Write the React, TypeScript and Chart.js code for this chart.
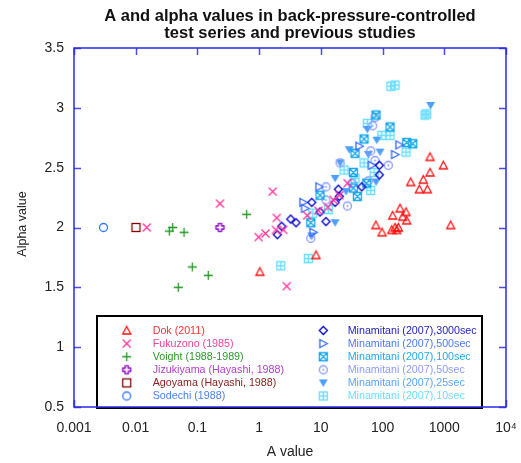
import React, { useEffect, useRef } from "react";
import { Chart, registerables } from "chart.js";
Chart.register(...registerables);

const xTickValues = [0.001, 0.01, 0.1, 1, 10, 100, 1000, 10000];
const xTickLabels = ["0.001", "0.01", "0.1", "1", "10", "100", "1000", "10⁴"];
const yTickValues = [0.5, 1, 1.5, 2, 2.5, 3, 3.5];

const titleLines = ["A and alpha values in back-pressure-controlled", "test series and previous studies"];

// Dok (2011)
const dokA = [588, 966, 588, 457, 286, 394, 531, 192, 146, 240, 212, 246, 78, 98, 141, 159, 180, 170, 1271, 8.35, 1.03];
const dokAlpha = [2.59, 2.52, 2.46, 2.40, 2.38, 2.32, 2.32, 2.16, 2.10, 2.13, 2.09, 2.06, 2.02, 1.96, 1.98, 2.0, 2.0, 1.98, 2.02, 1.77, 1.63];
// Fukuzono (1985)
const fukA = [0.0151, 0.232, 1.66, 1.93, 0.98, 1.27, 1.87, 2.46, 2.8, 6.0, 9.1, 16, 13, 27, 20];
const fukAlpha = [2.0, 2.2, 2.3, 2.08, 1.92, 1.95, 1.98, 1.98, 1.51, 2.1, 2.14, 2.23, 2.17, 2.37, 2.27];
// Voight (1988-1989)
const voiA = [0.0397, 0.0351, 0.0606, 0.628, 0.0826, 0.15, 0.049];
const voiAlpha = [2.0, 1.97, 1.96, 2.11, 1.67, 1.6, 1.5];
// Jizukiyama
const jizA = [0.232];
const jizAlpha = [2.0];
// Agoyama
const agoA = [0.0101];
const agoAlpha = [2.0];
// Sodechi
const sodA = [0.003];
const sodAlpha = [2.0];
// Minamitani 3000sec
const m3000A = [1.97, 2.32, 3.25, 3.96, 7.12, 9.7, 12.1, 19.2, 17.0, 19.9, 46.0, 88.7, 88.7];
const m3000Alpha = [1.94, 2.01, 2.07, 2.04, 2.21, 2.13, 2.05, 2.32, 2.21, 2.26, 2.34, 2.44, 2.52];
// Minamitani 500sec
const m500A = [42.1, 187, 159, 66.8, 9.46, 5.2, 5.54, 7.55];
const m500Alpha = [2.68, 2.69, 2.61, 2.52, 2.34, 2.21, 2.16, 1.96];
// Minamitani 100sec
const m100A = [78.4, 132, 50.1, 35.8, 246, 308, 33.6, 33.6, 39.0, 9.7, 6.86, 55.4];
const m100Alpha = [2.94, 2.84, 2.74, 2.62, 2.71, 2.70, 2.46, 2.33, 2.26, 2.27, 2.04, 2.37];
// Minamitani 50sec
const m50A = [75.5, 69.3, 64.3, 20.5, 75.5, 124, 12.1, 31.7, 58.8, 12.1, 26.9, 6.86];
const m50Alpha = [2.92, 2.85, 2.64, 2.54, 2.56, 2.52, 2.34, 2.37, 2.39, 2.23, 2.18, 1.91];
// Minamitani 25sec
const m25A = [602, 56.6, 80.5, 28.9, 58.8, 91.0, 20.5, 17.0, 25.6, 78.4, 17.0, 7.12];
const m25Alpha = [3.02, 2.82, 2.73, 2.65, 2.61, 2.63, 2.54, 2.41, 2.30, 2.38, 2.04, 1.93];
// Minamitani 10sec
const m10A = [136, 159, 519, 487, 56.6, 97, 132, 240, 50.1, 23.8, 35.8, 72.8, 64.3, 7.39, 13.2, 6.27, 2.24];
const m10Alpha = [3.18, 3.19, 2.95, 2.94, 2.87, 2.77, 2.77, 2.63, 2.54, 2.48, 2.41, 2.46, 2.31, 2.12, 2.15, 1.74, 1.68];

type Series = { label: string; xs: number[]; ys: number[]; kind: string; color: string; text: string };

const seriesList: Series[] = [
  { label: "Dok (2011)", xs: dokA, ys: dokAlpha, kind: "triUp", color: "#ff1010", text: "#ff3030" },
  { label: "Fukuzono (1985)", xs: fukA, ys: fukAlpha, kind: "x", color: "#ff3399", text: "#f0449c" },
  { label: "Voight (1988-1989)", xs: voiA, ys: voiAlpha, kind: "plus", color: "#229922", text: "#2e962e" },
  { label: "Jizukiyama (Hayashi, 1988)", xs: jizA, ys: jizAlpha, kind: "fatPlus", color: "#9922cc", text: "#b040cc" },
  { label: "Agoyama (Hayashi, 1988)", xs: agoA, ys: agoAlpha, kind: "square", color: "#800000", text: "#8b2222" },
  { label: "Sodechi (1988)", xs: sodA, ys: sodAlpha, kind: "circle", color: "#3377ff", text: "#4a80f0" },
  { label: "Minamitani (2007),3000sec", xs: m3000A, ys: m3000Alpha, kind: "diamond", color: "#0000cc", text: "#2424c0" },
  { label: "Minamitani (2007),500sec", xs: m500A, ys: m500Alpha, kind: "triRight", color: "#3366ff", text: "#4a7cff" },
  { label: "Minamitani (2007),100sec", xs: m100A, ys: m100Alpha, kind: "squareX", color: "#15a8e8", text: "#22aae8" },
  { label: "Minamitani (2007),50sec", xs: m50A, ys: m50Alpha, kind: "circleDot", color: "#8899ff", text: "#8c9cff" },
  { label: "Minamitani (2007),25sec", xs: m25A, ys: m25Alpha, kind: "triDown", color: "#4d9fff", text: "#5aa4ff" },
  { label: "Minamitani (2007),10sec", xs: m10A, ys: m10Alpha, kind: "squarePlus", color: "#66ddff", text: "#6fdcff" },
];

function makeMarker(kind: string, color: string): HTMLCanvasElement {
  const S = 13;
  const c = document.createElement("canvas");
  c.width = S;
  c.height = S;
  const g = c.getContext("2d")!;
  const m = S / 2;
  const r = 4;
  g.strokeStyle = color;
  g.fillStyle = color;
  g.lineWidth = 1.3;
  g.beginPath();
  switch (kind) {
    case "triUp":
      g.moveTo(m, m - r);
      g.lineTo(m + r, m + r - 0.5);
      g.lineTo(m - r, m + r - 0.5);
      g.closePath();
      g.stroke();
      break;
    case "x":
      g.moveTo(m - r, m - r);
      g.lineTo(m + r, m + r);
      g.moveTo(m + r, m - r);
      g.lineTo(m - r, m + r);
      g.stroke();
      break;
    case "plus":
      g.moveTo(m - r - 0.5, m);
      g.lineTo(m + r + 0.5, m);
      g.moveTo(m, m - r - 0.5);
      g.lineTo(m, m + r + 0.5);
      g.stroke();
      break;
    case "fatPlus": {
      const a = 1.6;
      const b = r;
      g.moveTo(m - a, m - b);
      g.lineTo(m + a, m - b);
      g.lineTo(m + a, m - a);
      g.lineTo(m + b, m - a);
      g.lineTo(m + b, m + a);
      g.lineTo(m + a, m + a);
      g.lineTo(m + a, m + b);
      g.lineTo(m - a, m + b);
      g.lineTo(m - a, m + a);
      g.lineTo(m - b, m + a);
      g.lineTo(m - b, m - a);
      g.lineTo(m - a, m - a);
      g.closePath();
      g.lineWidth = 1.6;
      g.lineJoin = "round";
      g.stroke();
      break;
    }
    case "square":
      g.strokeRect(m - r, m - r, 2 * r, 2 * r);
      break;
    case "circle":
      g.arc(m, m, r, 0, Math.PI * 2);
      g.stroke();
      break;
    case "diamond":
      g.moveTo(m, m - r);
      g.lineTo(m + r, m);
      g.lineTo(m, m + r);
      g.lineTo(m - r, m);
      g.closePath();
      g.stroke();
      break;
    case "triRight":
      g.moveTo(m + r, m);
      g.lineTo(m - r + 0.5, m - r);
      g.lineTo(m - r + 0.5, m + r);
      g.closePath();
      g.stroke();
      break;
    case "squareX":
      g.rect(m - r, m - r, 2 * r, 2 * r);
      g.moveTo(m - r, m - r);
      g.lineTo(m + r, m + r);
      g.moveTo(m + r, m - r);
      g.lineTo(m - r, m + r);
      g.stroke();
      break;
    case "circleDot":
      g.arc(m, m, r, 0, Math.PI * 2);
      g.stroke();
      g.beginPath();
      g.arc(m, m, 1, 0, Math.PI * 2);
      g.fill();
      break;
    case "triDown":
      g.moveTo(m - r - 0.5, m - r + 0.5);
      g.lineTo(m + r + 0.5, m - r + 0.5);
      g.lineTo(m, m + r);
      g.closePath();
      g.fill();
      break;
    case "squarePlus":
      g.rect(m - r, m - r, 2 * r, 2 * r);
      g.moveTo(m - r, m);
      g.lineTo(m + r, m);
      g.moveTo(m, m - r);
      g.lineTo(m, m + r);
      g.stroke();
      break;
  }
  return c;
}

export default function App() {
  const ref = useRef<HTMLCanvasElement | null>(null);

  useEffect(() => {
    if (!ref.current) return;
    const markers = seriesList.map((s) => makeMarker(s.kind, s.color));

    const decor = {
      id: "decor",
      afterDatasetsDraw(chart: any) {
        const ctx = chart.ctx as CanvasRenderingContext2D;
        const ca = chart.chartArea;
        const xs = chart.scales.x;
        const ys = chart.scales.y;
        ctx.save();
        // ticks
        ctx.strokeStyle = "#4b4bef";
        ctx.lineWidth = 1.5;
        const tl = 7;
        ctx.beginPath();
        for (const v of xTickValues) {
          const px = Math.round(xs.getPixelForValue(v)) + 0.5;
          ctx.moveTo(px, ca.bottom);
          ctx.lineTo(px, ca.bottom - tl);
          ctx.moveTo(px, ca.top);
          ctx.lineTo(px, ca.top + tl);
        }
        for (const v of yTickValues) {
          const py = Math.round(ys.getPixelForValue(v)) + 0.5;
          ctx.moveTo(ca.left, py);
          ctx.lineTo(ca.left + tl, py);
          ctx.moveTo(ca.right, py);
          ctx.lineTo(ca.right - tl, py);
        }
        ctx.stroke();
        // legend box
        const bx = 97, by = 316, bw = 385, bh = 92;
        ctx.fillStyle = "#ffffff";
        ctx.fillRect(bx, by, bw, bh);
        ctx.strokeStyle = "#000000";
        ctx.lineWidth = 2;
        ctx.strokeRect(bx, by, bw, bh);
        ctx.font = "10.7px 'Liberation Sans', Arial, sans-serif";
        ctx.textBaseline = "middle";
        ctx.textAlign = "left";
        seriesList.forEach((s, i) => {
          const col = i < 6 ? 0 : 1;
          const row = i % 6;
          const y = 330.5 + row * 13.1;
          const mx = col === 0 ? 126.7 : 323.3;
          const tx = col === 0 ? 152.7 : 347.7;
          const mk = markers[i];
          ctx.drawImage(mk, mx - mk.width / 2, y - mk.height / 2);
          ctx.fillStyle = s.text;
          ctx.fillText(s.label, tx, y + 0.5);
        });
        // frame
        ctx.strokeStyle = "#2a2ae6";
        ctx.lineWidth = 1.5;
        ctx.strokeRect(ca.left, ca.top, ca.right - ca.left, ca.bottom - ca.top);
        // title
        ctx.fillStyle = "#111111";
        ctx.textAlign = "center";
        ctx.font = "bold 16.5px 'Liberation Sans', Arial, sans-serif";
        ctx.fillText(titleLines[0], 290, 16.5);
        ctx.fillText(titleLines[1], 290, 33.5);
        // axis titles
        ctx.font = "14px 'Liberation Sans', Arial, sans-serif";
        ctx.fillStyle = "#222222";
        ctx.fillText("A value", 290, 452);
        ctx.save();
        ctx.translate(23, 224);
        ctx.rotate(-Math.PI / 2);
        ctx.font = "12.5px 'Liberation Sans', Arial, sans-serif";
        ctx.fillText("Alpha value", 0, 0);
        ctx.restore();
        ctx.restore();
      },
    };

    const chart = new Chart(ref.current, {
      type: "scatter",
      data: {
        datasets: seriesList.map((s, i) => ({
          label: s.label,
          data: s.xs.map((x, j) => ({ x, y: s.ys[j] })),
          pointStyle: markers[i] as any,
          pointRadius: 5,
          borderColor: s.color,
          backgroundColor: s.color,
          showLine: false,
        })),
      },
      options: {
        responsive: false,
        animation: false,
        layout: { padding: { top: 48, right: 15, left: 0, bottom: 0 } },
        plugins: {
          legend: { display: false },
          tooltip: { enabled: false },
          title: { display: false },
        },
        scales: {
          x: {
            type: "logarithmic",
            min: 0.001,
            max: 10000,
            afterBuildTicks: (s: any) => {
              s.ticks = xTickValues.map((v) => ({ value: v }));
            },
            afterFit: (s: any) => {
              s.height = 56;
              s.paddingLeft = 0;
              s.paddingRight = 0;
            },
            ticks: {
              autoSkip: false,
              maxRotation: 0,
              padding: 13,
              color: "#222222",
              font: { size: 14, family: "'Liberation Sans', Arial, sans-serif" },
              callback: (v: any) => {
                const i = xTickValues.findIndex((t) => Math.abs(t - Number(v)) / t < 1e-6);
                return i >= 0 ? xTickLabels[i] : "";
              },
            },
            grid: { display: false, drawTicks: false, tickLength: 0 },
            border: { display: false },
          },
          y: {
            type: "linear",
            min: 0.5,
            max: 3.5,
            afterBuildTicks: (s: any) => {
              s.ticks = yTickValues.map((v) => ({ value: v }));
            },
            afterFit: (s: any) => {
              s.width = 74;
              s.paddingTop = 0;
              s.paddingBottom = 0;
            },
            ticks: {
              padding: 10,
              color: "#222222",
              font: { size: 14, family: "'Liberation Sans', Arial, sans-serif" },
              callback: (v: any) => String(v),
            },
            grid: { display: false, drawTicks: false, tickLength: 0 },
            border: { display: false },
          },
        },
      },
      plugins: [decor],
    } as any);
    return () => chart.destroy();
  }, []);

  return (
    <div style={{ position: "fixed", left: 0, top: 0, width: 521, height: 463, background: "#fff" }}>
      <canvas ref={ref} width={521} height={463} style={{ width: 521, height: 463, display: "block" }} />
    </div>
  );
}
